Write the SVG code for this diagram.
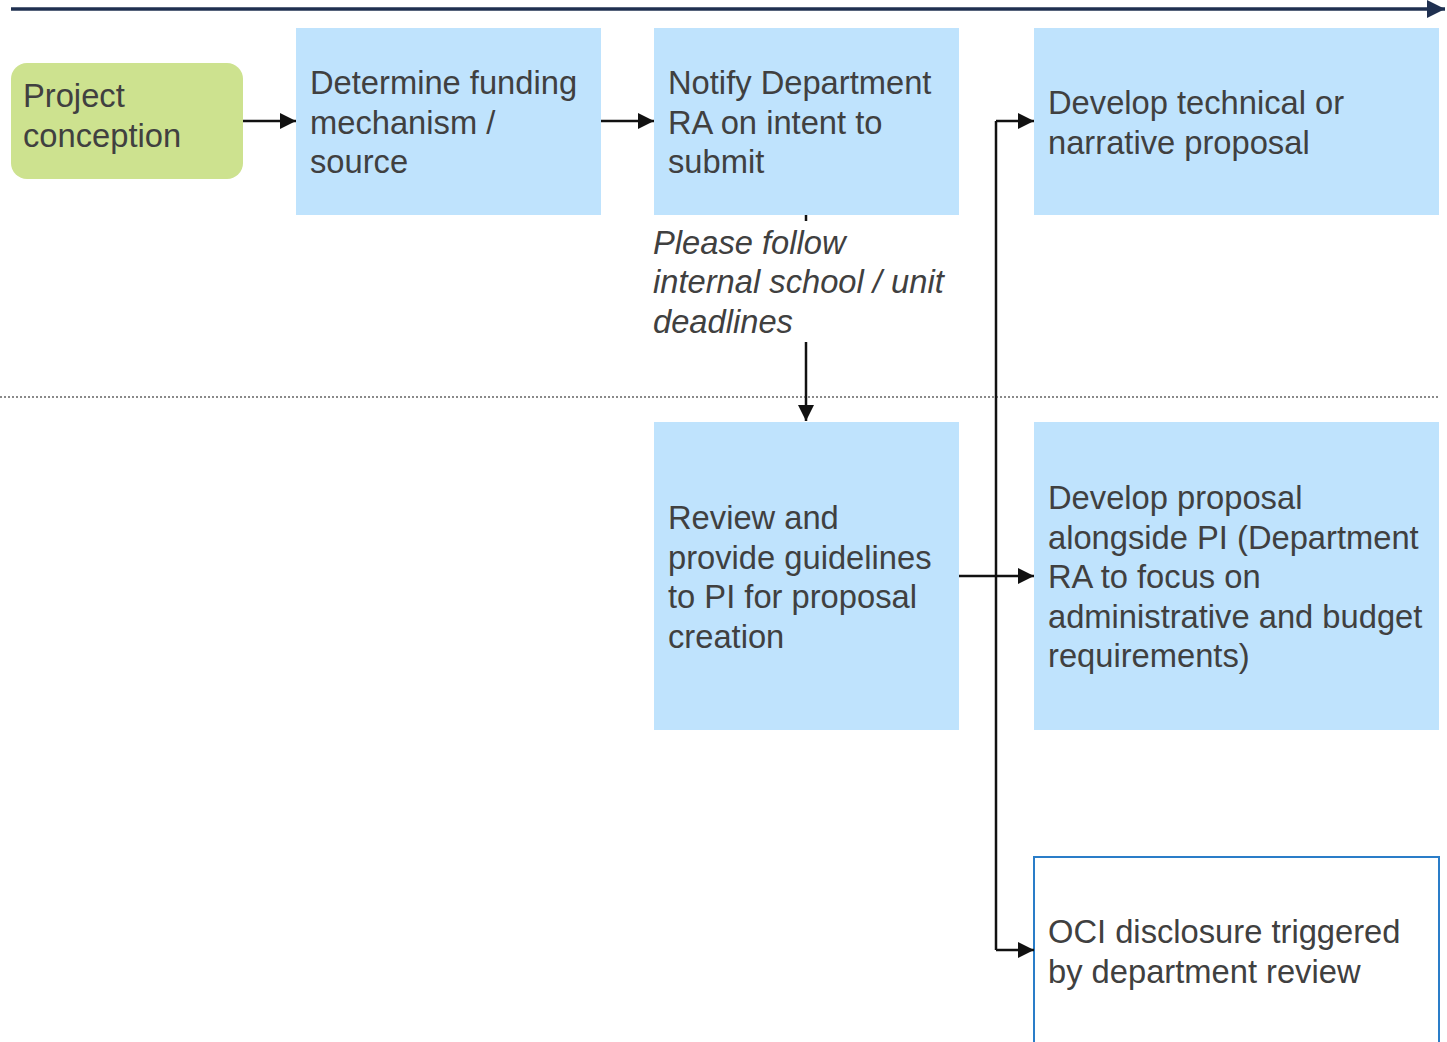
<svg xmlns="http://www.w3.org/2000/svg" width="1447" height="1042" viewBox="0 0 1447 1042">
<defs>
<style>
.box{fill:#bfe3fd;}
.t{font-family:"Liberation Sans",Arial,sans-serif;font-size:32.7px;fill:#404040;}
.it{font-style:italic;}
.c{stroke:#111;stroke-width:2.5;fill:none;}
</style>
<marker id="ah" viewBox="0 0 10 10" refX="10" refY="5" markerWidth="16" markerHeight="16" markerUnits="userSpaceOnUse" orient="auto"><path d="M0,0 L10,5 L0,10 z" fill="#111"/></marker>
<marker id="ah2" viewBox="0 0 10 10" refX="10" refY="5" markerWidth="18" markerHeight="18" markerUnits="userSpaceOnUse" orient="auto"><path d="M0,0 L10,5 L0,10 z" fill="#1f3050"/></marker>
</defs>
<rect width="1447" height="1042" fill="#fff"/>
<line x1="11" y1="9" x2="1445" y2="9" stroke="#1f3050" stroke-width="3.5" marker-end="url(#ah2)"/>
<line x1="0" y1="397" x2="1440" y2="397" stroke="#8a8a8a" stroke-width="2" stroke-dasharray="2,2"/>
<g id="n1"><rect x="11" y="63" width="232" height="116" rx="16" fill="#cde28f"/><text class="t" x="23" y="107">Project</text><text class="t" x="23" y="147">conception</text></g>
<g id="n2"><rect class="box" x="296" y="28" width="305" height="187"/><text class="t" x="310" y="94">Determine funding</text><text class="t" x="310" y="134">mechanism /</text><text class="t" x="310" y="173">source</text></g>
<g id="n3"><rect class="box" x="654" y="28" width="305" height="187"/><text class="t" x="668" y="94">Notify Department</text><text class="t" x="668" y="134">RA on intent to</text><text class="t" x="668" y="173">submit</text></g>
<g id="n4"><rect class="box" x="1034" y="28" width="405" height="187"/><text class="t" x="1048" y="114">Develop technical or</text><text class="t" x="1048" y="154">narrative proposal</text></g>
<g id="n5"><rect class="box" x="654" y="422" width="305" height="308"/><text class="t" x="668" y="529">Review and</text><text class="t" x="668" y="569">provide guidelines</text><text class="t" x="668" y="608">to PI for proposal</text><text class="t" x="668" y="648">creation</text></g>
<g id="n6"><rect class="box" x="1034" y="422" width="405" height="308"/><text class="t" x="1048" y="509">Develop proposal</text><text class="t" x="1048" y="549">alongside PI (Department</text><text class="t" x="1048" y="588">RA to focus on</text><text class="t" x="1048" y="628">administrative and budget</text><text class="t" x="1048" y="667">requirements)</text></g>
<g id="n7"><rect x="1034" y="857" width="405" height="200" fill="#fff" stroke="#2a7dc8" stroke-width="2"/><text class="t" x="1048" y="943">OCI disclosure triggered</text><text class="t" x="1048" y="983">by department review</text></g>
<g id="connectors">
<line class="c" x1="243" y1="121" x2="296" y2="121" marker-end="url(#ah)"/>
<line class="c" x1="601" y1="121" x2="654" y2="121" marker-end="url(#ah)"/>
<line class="c" x1="806" y1="215" x2="806" y2="221"/>
<line class="c" x1="806" y1="342" x2="806" y2="421" marker-end="url(#ah)"/>
<line class="c" x1="959" y1="576" x2="1034" y2="576" marker-end="url(#ah)"/>
<path class="c" d="M996,121 L996,950"/>
<line class="c" x1="996" y1="121" x2="1034" y2="121" marker-end="url(#ah)"/>
<line class="c" x1="996" y1="950" x2="1034" y2="950" marker-end="url(#ah)"/>
</g>
<g id="label"><text class="t it" x="653" y="254">Please follow</text><text class="t it" x="653" y="293">internal school / unit</text><text class="t it" x="653" y="333">deadlines</text></g>
</svg>
